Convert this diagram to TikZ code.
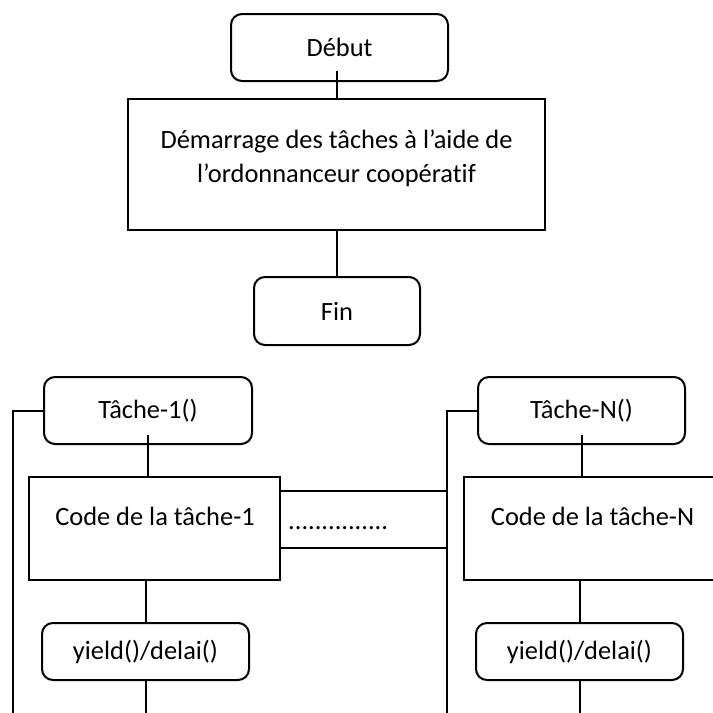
\documentclass[tikz,border=0pt]{standalone}
\usepackage{fontspec}
\setmainfont{Carlito}[Ligatures={NoCommon}]
\usetikzlibrary{calc}
\begin{document}
\begin{tikzpicture}[x=1pt, y=-1pt,
  every node/.style={font=\fontsize{26.4}{34}\selectfont},
  roundbox/.style={draw, line width=2pt, rounded corners=11pt, inner sep=0pt},
  plainbox/.style={draw, line width=2pt, inner sep=0pt},
  plaintext/.style={inner sep=0pt, align=center},
  link/.style={line width=2pt}]

% page frame
\path[use as bounding box, clip] (0,0) rectangle (713,713);

% main program
\node[roundbox, minimum width=217pt, minimum height=67pt] (debut) at (339.5,47.5) {Début};
\node[plainbox, minimum width=417pt, minimum height=131pt] (start) at (336.5,164.5) {};
\node[plaintext] (starttxt) at (336.5,158) {Démarrage des tâches à l’aide de\\l’ordonnanceur coopératif};
\node[roundbox, minimum width=166pt, minimum height=68pt] (fin) at (337,311) {Fin};

\draw[link] (start.north) -- ($(start.north |- debut.south)+(0,-11)$);
\draw[link] (start.south) -- (start.south |- fin.north);

% task 1
\node[roundbox, minimum width=208pt, minimum height=67pt] (tache1) at (148,410.5) {Tâche-1()};
\node[plainbox, minimum width=251pt, minimum height=103pt] (code1) at (154.5,528.5) {};
\node[plaintext, anchor=base] (code1txt) at (155,525) {Code de la tâche-1};
\node[roundbox, minimum width=207pt, minimum height=57pt] (yield1) at (145.5,651.5) {yield()/delai()};

% task N
\node[roundbox, minimum width=207pt, minimum height=67pt] (tacheN) at (581.5,410.5) {Tâche-N()};
\node[plainbox, minimum width=256pt, minimum height=103pt] (codeN) at (592,528.5) {};
\node[plaintext, anchor=base] (codeNtxt) at (592.5,525) {Code de la tâche-N};
\node[roundbox, minimum width=207pt, minimum height=57pt] (yieldN) at (579.5,651.5) {yield()/delai()};

% tasks in between
\coordinate (bandtop) at (447,491);
\coordinate (bandbot) at (447,548);
\draw[link] (code1.east |- bandtop) -- (bandtop);
\draw[link] (code1.east |- bandbot) -- (bandbot);
\node[plaintext, anchor=base west] (dots) at (288,529) {...............};

% loop-back lines
\coordinate (loop1end) at (13,720);
\coordinate (loopNend) at (447,720);
\draw[link] (tache1.west) -| (loop1end);
\draw[link] (tacheN.west) -| (loopNend);

% flow within each task
\draw[link] ($(tache1.south)+(0,-10)$) -- (tache1.south |- code1.north);
\draw[link] (yield1.north) -- (yield1.north |- code1.south);
\draw[link] (yield1.south) -- ++(0,40);
\draw[link] ($(tacheN.south)+(0,-10)$) -- (tacheN.south |- codeN.north);
\draw[link] (yieldN.north) -- (yieldN.north |- codeN.south);
\draw[link] (yieldN.south) -- ++(0,40);
\end{tikzpicture}
\end{document}
